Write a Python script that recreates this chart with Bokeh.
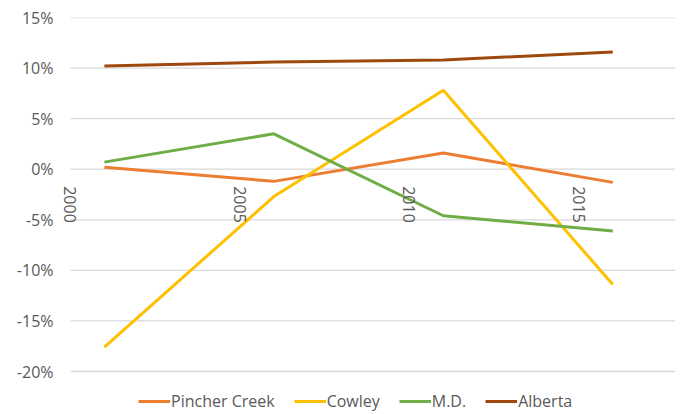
import math
from bokeh.plotting import figure
from bokeh.models import (Legend, LegendItem, Range1d, FixedTicker, LinearAxis,
                          CustomJSTickFormatter)
from bokeh.embed import file_html
from bokeh.resources import INLINE

years = [2001, 2006, 2011, 2016]
pincher_creek = [0.2, -1.2, 1.6, -1.3]
cowley = [-17.6, -2.7, 7.8, -11.4]
md = [0.7, 3.5, -4.6, -6.1]
alberta = [10.2, 10.6, 10.8, 11.6]
series_names = ["Pincher Creek", "Cowley", "M.D.", "Alberta"]
colors = ["#ED7D31", "#FFC000", "#70AD47", "#9E480E"]
x_ticks = [2000, 2005, 2010, 2015]
x_tick_labels = ["2000", "2005", "2010", "2015"]
y_ticks = [-20, -15, -10, -5, 0, 5, 10, 15]

FONT = "Open Sans"
TXT = "#595959"
FS = "16px"

x_end = 2017.85
p = figure(width=684, height=414, output_backend="svg", toolbar_location=None,
           x_range=Range1d(1999.617, x_end), y_range=Range1d(-24.25, 15),
           min_border_left=57, min_border_right=9, min_border_top=17, min_border_bottom=0)
p.outline_line_color = None
p.xaxis.visible = False
p.xgrid.visible = False
p.ygrid.visible = False
p.yaxis.ticker = FixedTicker(ticks=y_ticks)
p.yaxis.formatter = CustomJSTickFormatter(code="return tick + '%';")
p.yaxis.axis_line_color = None
p.yaxis.major_tick_line_color = None
p.yaxis.minor_tick_line_color = None
p.yaxis.major_label_text_font = FONT
p.yaxis.major_label_text_font_size = FS
p.yaxis.major_label_text_color = TXT
p.yaxis.major_label_standoff = -2

# horizontal gridlines starting at the first category boundary
p.segment(x0=[x_ticks[0]] * len(y_ticks), x1=[x_end] * len(y_ticks), y0=y_ticks, y1=y_ticks,
          line_color="#D9D9D9", line_width=1.3)

renderers = []
for name, vals, c in zip(series_names, [pincher_creek, cowley, md, alberta], colors):
    r = p.line(years, vals, line_color=c, line_width=3)
    renderers.append((name, r))

xaxis = LinearAxis(fixed_location=0, ticker=FixedTicker(ticks=x_ticks),
                   major_label_overrides={t: l for t, l in zip(x_ticks, x_tick_labels)},
                   major_label_orientation=-math.pi / 2)
xaxis.axis_line_color = None
xaxis.major_tick_line_color = None
xaxis.minor_tick_line_color = None
xaxis.major_label_text_font = FONT
xaxis.major_label_text_font_size = FS
xaxis.major_label_text_color = TXT
xaxis.major_label_standoff = 11
p.add_layout(xaxis, "below")

legend = Legend(items=[LegendItem(label=n, renderers=[r]) for n, r in renderers],
                orientation="horizontal", location=(81, 2))
legend.border_line_color = None
legend.background_fill_alpha = 0
legend.label_text_font = FONT
legend.label_text_font_size = FS
legend.label_text_color = TXT
legend.glyph_width = 32
legend.label_standoff = 1
legend.spacing = 19
legend.padding = 2
legend.margin = 0
p.add_layout(legend, "center")

open("out.html", "w").write(file_html(p, INLINE))
